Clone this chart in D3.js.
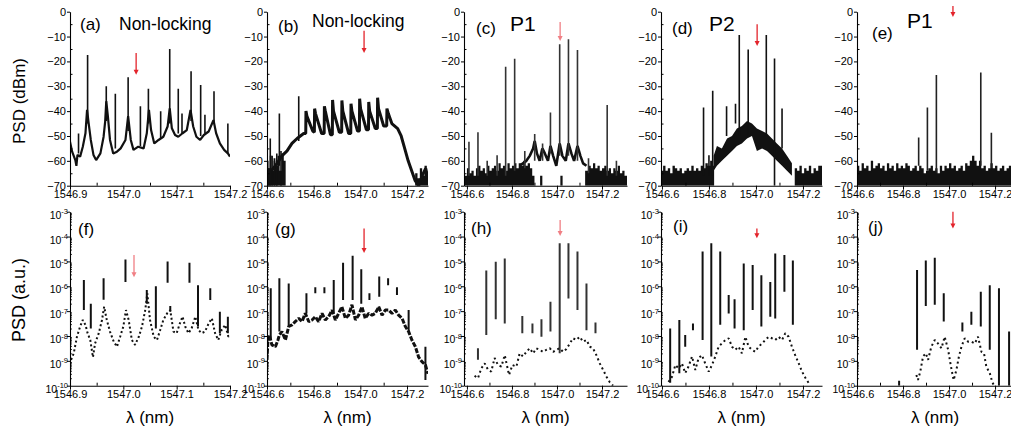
<!DOCTYPE html>
<html>
<head>
<meta charset="utf-8">
<script src="https://cdn.jsdelivr.net/npm/d3@7"></script>
<style>
body { margin: 0; background: #fff; }
svg { font-family: Arial, "Liberation Sans", sans-serif; }
</style>
</head>
<body>
<script>
// ---------- axis ticks ----------
var dbTicks = [0, -10, -20, -30, -40, -50, -60, -70];
var dbMinor = [-5, -15, -25, -35, -45, -55, -65];
var logTicks = [1e-3, 1e-4, 1e-5, 1e-6, 1e-7, 1e-8, 1e-9, 1e-10];
var xTicksA = [1546.9, 1547.0, 1547.1, 1547.2];
var xMinorA = [1546.95, 1547.05, 1547.15];
var xTicksB = [1546.6, 1546.8, 1547.0, 1547.2];
var xMinorB = [1546.7, 1546.9, 1547.1];

// ---------- top row: PSD (dBm) ----------
// traces [lambda, dBm]
var traceA = [[1546.900,-52.3],[1546.904,-56.3],[1546.910,-59.7],[1546.912,-62],[1546.914,-57.6],[1546.919,-58.3],[1546.924,-54.3],[1546.929,-48.9],[1546.932,-39.5],[1546.935,-44.9],[1546.939,-51.6],[1546.944,-57.6],[1546.949,-59.7],[1546.957,-57],[1546.963,-50.3],[1546.966,-44],[1546.968,-36],[1546.971,-42],[1546.975,-51.6],[1546.981,-57],[1546.988,-56.3],[1546.995,-55],[1547.004,-51.6],[1547.009,-42],[1547.014,-51.6],[1547.019,-55.6],[1547.028,-54.3],[1547.038,-55],[1547.044,-48.9],[1547.048,-39.5],[1547.052,-47.6],[1547.058,-53],[1547.066,-51.6],[1547.075,-50.3],[1547.083,-46.2],[1547.087,-38.9],[1547.091,-46.9],[1547.097,-49.6],[1547.103,-50.3],[1547.111,-48.9],[1547.119,-47.6],[1547.126,-39.5],[1547.131,-46.2],[1547.137,-50.3],[1547.144,-51.6],[1547.151,-49.6],[1547.160,-48.2],[1547.169,-43.6],[1547.174,-48.9],[1547.181,-53],[1547.189,-55.6],[1547.196,-57],[1547.200,-58.3]];
// peaks [lambda, top, bottom]
var peaksA = [[1546.916,-49,-57],[1546.933,-17.4,-45],[1546.968,-30,-44],[1546.985,-33,-55],[1547.009,-26.4,-48],[1547.032,-38,-54],[1547.047,-31,-45],[1547.070,-40,-51],[1547.087,-15,-45],[1547.103,-31,-49],[1547.110,-41,-49],[1547.127,-24,-44],[1547.145,-29.5,-50],[1547.153,-41.5,-49],[1547.170,-32,-45],[1547.196,-45,-57]];

var traceB = [[1546.600,-66],[1546.636,-62],[1546.664,-58],[1546.686,-56],[1546.707,-53],[1546.729,-51],[1546.743,-50],[1546.757,-49],
  [1546.766,-49],[1546.767,-40],[1546.771,-42],[1546.796,-48],
  [1546.803,-48.5],[1546.804,-39],[1546.808,-41],[1546.834,-49],
  [1546.845,-49],[1546.846,-38],[1546.850,-40],[1546.872,-49.5],
  [1546.880,-49.5],[1546.881,-35.5],[1546.885,-40],[1546.910,-48.5],
  [1546.920,-48.5],[1546.921,-35.7],[1546.925,-40],[1546.950,-49],
  [1546.959,-49],[1546.960,-37],[1546.964,-40],[1546.988,-48],
  [1546.996,-48],[1546.997,-35],[1547.001,-39],[1547.026,-47.5],
  [1547.035,-47.5],[1547.036,-36.3],[1547.040,-40],[1547.064,-47],
  [1547.073,-47],[1547.074,-34.6],[1547.078,-39],[1547.100,-46],
  [1547.113,-46],[1547.114,-39],[1547.120,-41],[1547.135,-45],[1547.160,-47],[1547.175,-50],[1547.190,-55],[1547.205,-60],[1547.220,-64],[1547.235,-68],[1547.250,-70],[1547.265,-66],[1547.280,-63],[1547.290,-67]];
var peaksB = [[1546.602,-60,-70],[1546.608,-63,-70],[1546.614,-51,-70],[1546.622,-58,-70],[1546.632,-60,-70],[1546.642,-57,-70],[1546.653,-41,-62],[1546.660,-56,-70],[1546.736,-34,-52]];
var floorB = [[1546.600,-60],[1546.606,-63],[1546.612,-58],[1546.620,-64],[1546.628,-59],[1546.636,-62],[1546.645,-58],[1546.654,-64],[1546.662,-57],[1546.672,-60],[1546.680,-70],[1547.225,-70],[1547.235,-65],[1547.245,-67],[1547.255,-63],[1547.265,-66],[1547.275,-62],[1547.285,-66],[1547.290,-64]];

var traceC = [[1546.834,-62],[1546.849,-61],[1546.864,-60],[1546.879,-58],[1546.894,-55],[1546.901,-52],[1546.911,-57],[1546.923,-60],[1546.935,-55],[1546.946,-57],[1546.960,-60],[1546.971,-54],[1546.983,-58],[1546.997,-62],[1547.012,-53],[1547.024,-58],[1547.039,-60],[1547.051,-53],[1547.064,-57],[1547.076,-60],[1547.091,-54],[1547.104,-58],[1547.116,-61],[1547.131,-62]];
var peaksC = [[1546.609,-52.3,-66],[1546.649,-48.5,-66],[1546.690,-60,-66],[1546.734,-57.7,-66],[1546.772,-22.1,-66],[1546.812,-18.9,-64],[1546.857,-56,-63],[1546.901,-49.2,-60],[1546.936,-53,-60],[1546.971,-40.6,-57],[1547.012,-13.1,-58],[1547.051,-11.1,-58],[1547.091,-15.4,-60],[1547.140,-59,-65],[1547.223,-37.5,-66],[1547.264,-60,-66]];
var floorC = [[1546.587,-66],[1546.600,-63],[1546.610,-65],[1546.620,-64],[1546.630,-66],[1546.640,-63],[1546.650,-62],[1546.660,-64],[1546.670,-63],[1546.680,-65],[1546.690,-62],[1546.700,-64],[1546.710,-63],[1546.720,-62],[1546.730,-64],[1546.740,-61],[1546.750,-63],[1546.760,-62],[1546.770,-64],[1546.780,-61],[1546.790,-63],[1546.800,-62],[1546.810,-61],[1546.820,-63],[1546.830,-61],[1546.840,-62],[1546.850,-60],[1546.860,-62],[1546.870,-61],[1546.880,-63],[1546.890,-66],[1546.900,-70],[1546.925,-66],[1546.935,-70],[1547.015,-66],[1547.025,-70],[1547.125,-64],[1547.140,-62],[1547.150,-63],[1547.160,-61],[1547.170,-63],[1547.180,-62],[1547.190,-64],[1547.200,-63],[1547.210,-62],[1547.220,-64],[1547.230,-63],[1547.240,-65],[1547.250,-63],[1547.260,-64],[1547.270,-62],[1547.280,-65],[1547.290,-64],[1547.300,-66],[1547.311,-65]];

// band [lambda, low, high]
var bandD = [[1546.820,-64,-58],[1546.834,-62,-54],[1546.855,-60,-55],[1546.877,-58,-51],[1546.898,-56,-50],[1546.919,-54,-47],[1546.940,-53,-46],[1546.962,-51,-44],[1546.983,-50,-45],[1547.004,-56,-47],[1547.026,-55,-48],[1547.047,-56,-49],[1547.068,-58,-51],[1547.089,-60,-53],[1547.111,-62,-55],[1547.132,-64,-58],[1547.153,-66,-61]];
var peaksD = [[1546.777,-38.5,-66],[1546.800,-57.7,-66],[1546.816,-31.8,-66],[1546.875,-38,-50],[1546.913,-37,-45],[1546.929,-9.4,-50],[1546.967,-15.2,-50],[1547.044,-9.4,-50],[1547.079,-18.8,-70],[1547.111,-38.9,-55]];
var floorD = [[1546.596,-64],[1546.605,-62],[1546.615,-64],[1546.625,-63],[1546.635,-65],[1546.645,-62],[1546.655,-63],[1546.665,-64],[1546.675,-63],[1546.685,-65],[1546.695,-64],[1546.705,-63],[1546.715,-64],[1546.725,-62],[1546.735,-64],[1546.745,-63],[1546.755,-64],[1546.765,-62],[1546.775,-63],[1546.785,-61],[1546.795,-62],[1546.805,-60],[1546.815,-62],[1546.822,-70],[1547.155,-70],[1547.165,-63],[1547.175,-64],[1547.185,-62],[1547.195,-65],[1547.205,-63],[1547.215,-64],[1547.225,-62],[1547.235,-65],[1547.245,-63],[1547.255,-64],[1547.265,-62],[1547.281,-64]];

var peaksE = [[1546.868,-50.6,-62],[1546.906,-38.5,-64],[1546.945,-25.5,-65],[1547.138,-24.5,-62],[1547.184,-48.7,-63]];
var floorE = [[1546.600,-62],[1546.610,-64],[1546.620,-61],[1546.630,-63],[1546.640,-62],[1546.650,-64],[1546.660,-60],[1546.670,-63],[1546.680,-62],[1546.690,-61],[1546.700,-63],[1546.710,-62],[1546.720,-64],[1546.730,-61],[1546.740,-63],[1546.750,-62],[1546.760,-64],[1546.770,-61],[1546.780,-63],[1546.790,-62],[1546.800,-63],[1546.810,-61],[1546.820,-62],[1546.830,-64],[1546.840,-63],[1546.850,-62],[1546.860,-64],[1546.870,-62],[1546.880,-63],[1546.890,-65],[1546.900,-64],[1546.910,-63],[1546.920,-62],[1546.930,-64],[1546.940,-63],[1546.950,-65],[1546.960,-62],[1546.970,-64],[1546.980,-62],[1546.990,-63],[1547.000,-61],[1547.010,-63],[1547.020,-62],[1547.030,-64],[1547.040,-63],[1547.050,-62],[1547.060,-64],[1547.070,-61],[1547.080,-62],[1547.090,-60],[1547.100,-58],[1547.110,-60],[1547.120,-62],[1547.130,-60],[1547.140,-63],[1547.150,-62],[1547.160,-64],[1547.170,-63],[1547.180,-61],[1547.190,-63],[1547.200,-62],[1547.210,-64],[1547.220,-63],[1547.230,-62],[1547.240,-64],[1547.250,-63],[1547.260,-62],[1547.278,-64]];

// ---------- bottom row: PSD (a.u.) ----------
var traceF = [[1546.902,1.1e-9],[1546.907,2.0e-9],[1546.913,9.3e-9],[1546.919,2.4e-8],[1546.924,4.4e-8],[1546.929,2.8e-8],[1546.933,1.3e-8],[1546.938,6.9e-9],[1546.943,1.4e-9],[1546.947,5.0e-9],[1546.954,1.3e-8],[1546.960,4.4e-8],[1546.964,1.5e-7],[1546.969,4.4e-8],[1546.975,1.5e-8],[1546.982,5.9e-9],[1546.988,3.7e-9],[1546.994,9.3e-9],[1547.000,2.4e-8],[1547.005,1.1e-7],[1547.010,4.4e-8],[1547.016,6.9e-9],[1547.022,4.4e-9],[1547.029,9.3e-9],[1547.035,2.4e-8],[1547.041,1.1e-7],[1547.045,5.2e-7],[1547.050,4.4e-8],[1547.057,9.3e-9],[1547.063,6.9e-9],[1547.069,1.7e-8],[1547.075,4.4e-8],[1547.082,8.1e-8],[1547.088,1.1e-7],[1547.094,1.5e-8],[1547.100,1.3e-8],[1547.106,3.2e-8],[1547.111,6.0e-8],[1547.116,2.4e-8],[1547.122,1.3e-8],[1547.128,2.0e-8],[1547.135,6.0e-8],[1547.141,1.7e-8],[1547.147,1.3e-8],[1547.153,1.5e-8],[1547.160,3.2e-8],[1547.166,5.1e-8],[1547.172,1.3e-8],[1547.178,6.9e-9],[1547.184,1.7e-8],[1547.191,2.8e-8],[1547.197,9.3e-9],[1547.200,1.1e-8]];
var peaksF = [[1546.926,1.8e-6,1.1e-7],[1546.939,2.0e-7,2.0e-8],[1546.963,2.1e-6,2.9e-7],[1547.004,1.2e-5,1.5e-6],[1547.044,7.1e-7,2.0e-7],[1547.061,1.0e-6,2.0e-8],[1547.083,1.0e-5,1.4e-6],[1547.088,1.6e-7,9.5e-8],[1547.124,8.9e-6,1.4e-6],[1547.140,1.1e-6,2.4e-8],[1547.163,8.3e-7,2.8e-7],[1547.181,9.5e-8,1.3e-8],[1547.196,6.0e-8,1.3e-8]];

var traceG = [[1546.600,1.1e-9],[1546.604,6.9e-9],[1546.610,1.1e-8],[1546.621,4.4e-9],[1546.636,3.7e-9],[1546.647,6.9e-9],[1546.653,1.1e-8],[1546.664,1.5e-8],[1546.679,6.9e-9],[1546.693,2.4e-8],[1546.707,2.8e-8],[1546.721,3.8e-8],[1546.736,5.1e-8],[1546.750,3.8e-8],[1546.764,8.1e-8],[1546.779,3.8e-8],[1546.793,4.4e-8],[1546.807,6.0e-8],[1546.821,3.8e-8],[1546.836,8.1e-8],[1546.850,4.4e-8],[1546.864,6.0e-8],[1546.879,1.1e-7],[1546.893,4.4e-8],[1546.907,8.1e-8],[1546.921,1.5e-7],[1546.936,5.1e-8],[1546.950,6.9e-8],[1546.964,1.8e-7],[1546.979,4.4e-8],[1546.993,6.9e-8],[1547.007,1.5e-7],[1547.021,5.1e-8],[1547.036,8.1e-8],[1547.050,6.9e-8],[1547.064,8.1e-8],[1547.079,1.5e-7],[1547.093,6.9e-8],[1547.107,1.1e-7],[1547.121,1.1e-7],[1547.136,8.1e-8],[1547.150,1.1e-7],[1547.164,6.9e-8],[1547.179,5.1e-8],[1547.193,2.4e-8],[1547.207,1.5e-8],[1547.221,6.9e-9],[1547.236,3.7e-9],[1547.250,1.4e-9],[1547.264,9.3e-10],[1547.279,6.8e-10],[1547.290,3.0e-10]];
var peaksG = [[1546.616,8.3e-7,6.9e-9],[1546.653,2.1e-6,1.5e-8],[1546.693,1.3e-6,2.4e-8],[1546.769,5.2e-7,8.1e-8],[1546.807,9.1e-7,5.2e-7],[1546.846,9.1e-7,5.2e-7],[1546.886,1.8e-6,8.1e-8],[1546.926,8.9e-6,2.8e-7],[1546.967,1.7e-5,2.8e-7],[1547.004,4.8e-6,2.0e-7],[1547.039,5.2e-7,2.8e-7],[1547.081,2.5e-6,3.8e-7],[1547.119,2.1e-6,1.1e-6],[1547.157,9.1e-7,4.5e-7],[1547.207,1.1e-7,1.5e-8],[1547.279,3.7e-9,1.7e-10]];

var traceH = [[1546.634,2.5e-10],[1546.649,2.0e-10],[1546.664,5.0e-10],[1546.679,7.9e-10],[1546.694,4.3e-10],[1546.708,3.7e-10],[1546.723,1.3e-9],[1546.738,6.8e-10],[1546.753,5.9e-10],[1546.768,1.7e-9],[1546.787,2.7e-10],[1546.802,6.8e-10],[1546.820,5.9e-10],[1546.834,2.0e-9],[1546.849,1.5e-9],[1546.864,2.3e-9],[1546.879,3.2e-9],[1546.894,2.0e-9],[1546.908,3.2e-9],[1546.923,2.8e-9],[1546.938,2.3e-9],[1546.953,2.8e-9],[1546.968,3.2e-9],[1546.983,2.3e-9],[1546.997,2.8e-9],[1547.012,3.2e-9],[1547.027,2.3e-9],[1547.042,3.0e-9],[1547.057,5.0e-9],[1547.071,8.1e-9],[1547.086,6.9e-9],[1547.101,9.3e-9],[1547.116,5.9e-9],[1547.131,6.9e-9],[1547.146,3.7e-9],[1547.160,3.2e-9],[1547.175,1.7e-9],[1547.190,7.9e-10],[1547.205,4.3e-10],[1547.220,2.3e-10],[1547.234,1.4e-10],[1547.249,1.0e-10]];
var peaksH = [[1546.649,3.2e-9,1.1e-9],[1546.686,4.3e-6,1.1e-8],[1546.728,9.8e-6,4.7e-8],[1546.768,1.3e-5,3.2e-8],[1546.846,6.3e-8,1.3e-8],[1546.891,3.2e-8,1.3e-8],[1546.931,4.7e-8,9.3e-9],[1546.971,2.4e-7,1.5e-8],[1547.012,5.4e-5,2.0e-9],[1547.051,5.4e-5,3.2e-7],[1547.091,2.5e-5,1.1e-7],[1547.131,1.3e-6,1.7e-8],[1547.171,3.5e-8,1.3e-8]];

var traceI = [[1546.628,1.4e-10],[1546.643,2.3e-10],[1546.657,6.8e-10],[1546.671,5.0e-10],[1546.685,7.9e-10],[1546.699,3.2e-10],[1546.713,5.9e-10],[1546.728,1.5e-9],[1546.742,4.3e-10],[1546.756,1.3e-9],[1546.770,1.7e-9],[1546.784,7.9e-10],[1546.799,3.7e-10],[1546.813,6.8e-10],[1546.827,1.5e-9],[1546.841,3.7e-9],[1546.855,5.0e-9],[1546.870,6.9e-9],[1546.884,8.1e-9],[1546.898,3.7e-9],[1546.912,2.8e-9],[1546.926,3.7e-9],[1546.940,2.0e-9],[1546.955,9.3e-9],[1546.969,3.7e-9],[1546.983,2.8e-9],[1546.997,2.3e-9],[1547.011,3.7e-9],[1547.026,5.0e-9],[1547.040,6.9e-9],[1547.054,9.3e-9],[1547.068,8.1e-9],[1547.082,6.9e-9],[1547.096,9.3e-9],[1547.111,6.9e-9],[1547.125,1.3e-8],[1547.139,9.3e-9],[1547.153,3.7e-9],[1547.167,1.7e-9],[1547.182,7.9e-10],[1547.196,3.7e-10],[1547.210,2.1e-10],[1547.224,1.3e-10]];
var peaksI = [[1546.635,2.0e-8,1.3e-10],[1546.674,4.4e-8,3.2e-10],[1546.699,1.1e-8,3.7e-9],[1546.732,3.2e-8,1.7e-8],[1546.773,2.5e-5,6.9e-9],[1546.810,5.4e-5,1.5e-9],[1546.848,2.5e-5,2.8e-8],[1546.884,4.5e-7,8.1e-8],[1546.909,3.0e-7,2.0e-8],[1546.948,8.3e-6,1.7e-8],[1546.986,7.2e-6,1.1e-7],[1547.023,2.8e-6,2.4e-8],[1547.061,1.5e-6,6.0e-8],[1547.082,2.1e-5,5.1e-8],[1547.121,1.8e-5,6.0e-7],[1547.157,1.1e-5,2.8e-8]];

var traceJ = [[1546.858,2.7e-10],[1546.865,1.7e-10],[1546.875,3.7e-10],[1546.887,1.5e-9],[1546.899,2.0e-9],[1546.909,1.1e-9],[1546.923,3.7e-9],[1546.938,6.9e-9],[1546.952,5.0e-9],[1546.967,3.2e-9],[1546.981,9.3e-9],[1546.996,2.8e-9],[1547.006,7.9e-10],[1547.014,3.2e-10],[1547.020,1.7e-10],[1547.032,4.3e-10],[1547.043,1.5e-9],[1547.054,3.7e-9],[1547.068,8.1e-9],[1547.083,5.9e-9],[1547.097,5.9e-9],[1547.112,5.0e-9],[1547.126,9.3e-9],[1547.141,2.3e-9],[1547.152,2.0e-9],[1547.162,5.9e-10],[1547.177,3.2e-10],[1547.188,1.4e-10],[1547.196,1.0e-10]];
var peaksJ = [[1546.783,1.6e-10,1.0e-10],[1546.861,4.5e-6,2.8e-9],[1546.899,1.1e-5,1.6e-7],[1546.938,1.4e-5,1.8e-7],[1546.977,5.2e-7,3.8e-8],[1547.058,3.5e-8,1.5e-8],[1547.097,9.5e-8,2.8e-8],[1547.138,6.0e-7,2.4e-8],[1547.177,1.1e-6,2.8e-9],[1547.217,8.3e-7,1.0e-10],[1547.261,1.5e-8,1.0e-10]];

// red arrows [lambda, from, to]
var arrowA = [1547.024, -16.6, -25.4], arrowB = [1547.016, -7.7, -16.6], arrowC = [1547.014, -4.1, -11.8],
    arrowD = [1547.005, -5.0, -13.8], arrowE = [1547.017, 2.3, -2.1];
var arrowF = [1547.020, 1.8e-5, 2.3e-6], arrowG = [1547.016, 2.1e-4, 2.2e-5], arrowH = [1547.014, 4.6e-4, 1.05e-4],
    arrowI = [1547.004, 2.1e-4, 8.5e-5], arrowJ = [1547.017, 1.2e-3, 2.1e-4];

// ---------- layout ----------
var W = 1011, H = 432;
var cols = [
  {x0: 70,  x1: 230,  dom: [1546.9, 1547.2],     ticks: xTicksA, minor: xMinorA},
  {x0: 267, x1: 428,  dom: [1546.6, 1547.29],    ticks: xTicksB, minor: xMinorB},
  {x0: 464, x1: 627,  dom: [1546.587, 1547.311], ticks: xTicksB, minor: xMinorB},
  {x0: 661, x1: 822,  dom: [1546.596, 1547.281], ticks: xTicksB, minor: xMinorB},
  {x0: 857, x1: 1013, dom: [1546.6, 1547.278],   ticks: xTicksB, minor: xMinorB}
];
var rows = [{y0: 185.7, y1: 11.7}, {y0: 385.7, y1: 211.7}];

var panels = [
  {col:0,row:0,tag:"(a)",tagAt:[80,30],title:"Non-locking",titleAt:[119,29.5],tsize:17.5,trace:traceA,lw:2.2,peaks:peaksA,arrow:arrowA},
  {col:1,row:0,tag:"(b)",tagAt:[278,32],title:"Non-locking",titleAt:[312,27],tsize:17.5,floor:floorB,trace:traceB,lw:3,peaks:peaksB,arrow:arrowB},
  {col:2,row:0,tag:"(c)",tagAt:[476,34],title:"P1",titleAt:[510,31],tsize:21,floor:floorC,trace:traceC,lw:2.6,peaks:peaksC,pc:"#333",arrow:arrowC,ac:"#f07f84"},
  {col:3,row:0,tag:"(d)",tagAt:[672,34],title:"P2",titleAt:[709,31],tsize:21,floor:floorD,band:bandD,peaks:peaksD,arrow:arrowD},
  {col:4,row:0,tag:"(e)",tagAt:[872,38.5],title:"P1",titleAt:[907,28],tsize:21,floor:floorE,peaks:peaksE,pc:"#222",arrow:arrowE},
  {col:0,row:1,tag:"(f)",tagAt:[78,235],trace:traceF,lw:2,dash:"2,2.5",peaks:peaksF,pw:2,arrow:arrowF,ac:"#f07f84"},
  {col:1,row:1,tag:"(g)",tagAt:[275,235],trace:traceG,lw:3,dash:"5,1.5",peaks:peaksG,pw:2,arrow:arrowG},
  {col:2,row:1,tag:"(h)",tagAt:[471,234],trace:traceH,lw:2,dash:"2,3",peaks:peaksH,pw:2,pc:"#333",arrow:arrowH,ac:"#f07f84"},
  {col:3,row:1,tag:"(i)",tagAt:[673,232],trace:traceI,lw:2,dash:"2,3",peaks:peaksI,pw:2,arrow:arrowI},
  {col:4,row:1,tag:"(j)",tagAt:[868,233],trace:traceJ,lw:2,dash:"2,3",peaks:peaksJ,pw:2,arrow:arrowJ}
];

var svg = d3.select("body").append("svg")
  .attr("width", W).attr("height", H);

function drawPanel(p, i) {
  var c = cols[p.col], r = rows[p.row], top = p.row === 0;
  var x = d3.scaleLinear().domain(c.dom).range([c.x0, c.x1]);
  var y = top ? d3.scaleLinear().domain([-70, 0]).range([r.y0, r.y1])
              : d3.scaleLog().domain([1e-10, 1e-3]).range([r.y0, r.y1]).clamp(true);
  var base = top ? -70 : 1e-10;

  var cid = "clip" + i;
  svg.append("clipPath").attr("id", cid).append("rect")
    .attr("x", c.x0).attr("y", r.y1 - 1)
    .attr("width", c.x1 - c.x0).attr("height", r.y0 - r.y1 + 1);
  var plot = svg.append("g").attr("clip-path", "url(#" + cid + ")");

  if (p.floor) {
    plot.append("path").datum(p.floor)
      .attr("d", d3.area().curve(d3.curveStepAfter)
        .x(function(d) { return x(d[0]); })
        .y0(y(base)).y1(function(d) { return y(d[1]); }))
      .attr("fill", "#111");
  }
  if (p.band) {
    plot.append("path").datum(p.band)
      .attr("d", d3.area()
        .x(function(d) { return x(d[0]); })
        .y0(function(d) { return y(d[1]); })
        .y1(function(d) { return y(d[2]); }))
      .attr("fill", "#111");
  }
  if (p.trace) {
    plot.append("path").datum(p.trace)
      .attr("d", d3.line()
        .x(function(d) { return x(d[0]); })
        .y(function(d) { return y(d[1]); }))
      .attr("fill", "none")
      .attr("stroke", "#111")
      .attr("stroke-width", p.lw)
      .attr("stroke-linejoin", "bevel")
      .attr("stroke-dasharray", p.dash || null);
  }
  plot.selectAll("line.pk").data(p.peaks).enter().append("line")
    .attr("class", "pk")
    .attr("x1", function(d) { return x(d[0]); })
    .attr("x2", function(d) { return x(d[0]); })
    .attr("y1", function(d) { return y(d[1]); })
    .attr("y2", function(d) { return y(d[2]); })
    .attr("stroke", p.pc || "#111")
    .attr("stroke-width", p.pw || 1.6);

  // axes
  var ax = svg.append("g").attr("font-family", null).attr("font-size", 11);
  var yAxis = top
    ? d3.axisLeft(y).tickValues(dbTicks).tickSize(3).tickPadding(1).tickSizeOuter(0).tickFormat(d3.format("d"))
    : d3.axisLeft(y).tickValues(logTicks).tickSize(3).tickPadding(1).tickSizeOuter(0).tickFormat("");
  var gy = ax.append("g").attr("transform", "translate(" + c.x0 + ",0)").call(yAxis)
    .attr("font-family", null).attr("font-size", 11);
  if (!top) {
    gy.selectAll(".tick").append("text")
      .attr("x", -2).attr("dy", "0.62em").attr("fill", "#000")
      .attr("text-anchor", "end").attr("font-size", 10.5)
      .each(function(d) {
        var t = d3.select(this);
        t.append("tspan").text("10");
        t.append("tspan").attr("dy", "-0.6em").attr("font-size", 7.5)
          .text("-" + Math.round(-Math.log10(d)));
      });
  }
  var minorY = top ? dbMinor : d3.merge(d3.range(3, 10).map(function(e) {
    return d3.range(2, 10).map(function(m) { return m * Math.pow(10, -e - 1); });
  }));
  ax.append("g").attr("transform", "translate(" + c.x0 + ",0)")
    .call(d3.axisLeft(y).tickValues(minorY).tickSize(top ? -2.5 : -1.8).tickFormat(""))
    .call(function(s) { s.select(".domain").remove(); });

  ax.append("g").attr("transform", "translate(0," + r.y0 + ")")
    .call(d3.axisBottom(x).tickValues(c.ticks).tickSize(4).tickPadding(1)
      .tickSizeOuter(0).tickFormat(d3.format(".1f")))
    .attr("font-family", null).attr("font-size", 11);
  ax.append("g").attr("transform", "translate(0," + r.y0 + ")")
    .call(d3.axisBottom(x).tickValues(c.minor).tickSize(-3).tickFormat(""))
    .call(function(s) { s.select(".domain").remove(); });
  ax.selectAll(".domain").attr("stroke-width", 1.1);

  // red arrow
  var a = p.arrow, ax0 = x(a[0]), ya = y(a[1]), yb = y(a[2]);
  var col = p.ac || "#e3232b";
  svg.append("line").attr("x1", ax0).attr("x2", ax0).attr("y1", ya).attr("y2", yb - 4)
    .attr("stroke", col).attr("stroke-width", 1.3);
  svg.append("path")
    .attr("d", "M" + (ax0 - 2.5) + "," + (yb - 5) + "L" + (ax0 + 2.5) + "," + (yb - 5) + "L" + ax0 + "," + yb + "Z")
    .attr("fill", col);

  // panel labels
  svg.append("text").attr("x", p.tagAt[0]).attr("y", p.tagAt[1])
    .attr("font-size", 17).text(p.tag);
  if (p.title) {
    svg.append("text").attr("x", p.titleAt[0]).attr("y", p.titleAt[1])
      .attr("font-size", p.tsize).text(p.title);
  }
  if (!top) {
    svg.append("text").attr("x", (c.x0 + c.x1) / 2).attr("y", 423)
      .attr("text-anchor", "middle").attr("font-size", 17).text("λ (nm)");
  }
}

panels.forEach(drawPanel);

svg.append("text").attr("transform", "translate(25,101) rotate(-90)")
  .attr("text-anchor", "middle").attr("font-size", 17).text("PSD (dBm)");
svg.append("text").attr("transform", "translate(25,300) rotate(-90)")
  .attr("text-anchor", "middle").attr("font-size", 18).text("PSD (a.u.)");
</script>
</body>
</html>
